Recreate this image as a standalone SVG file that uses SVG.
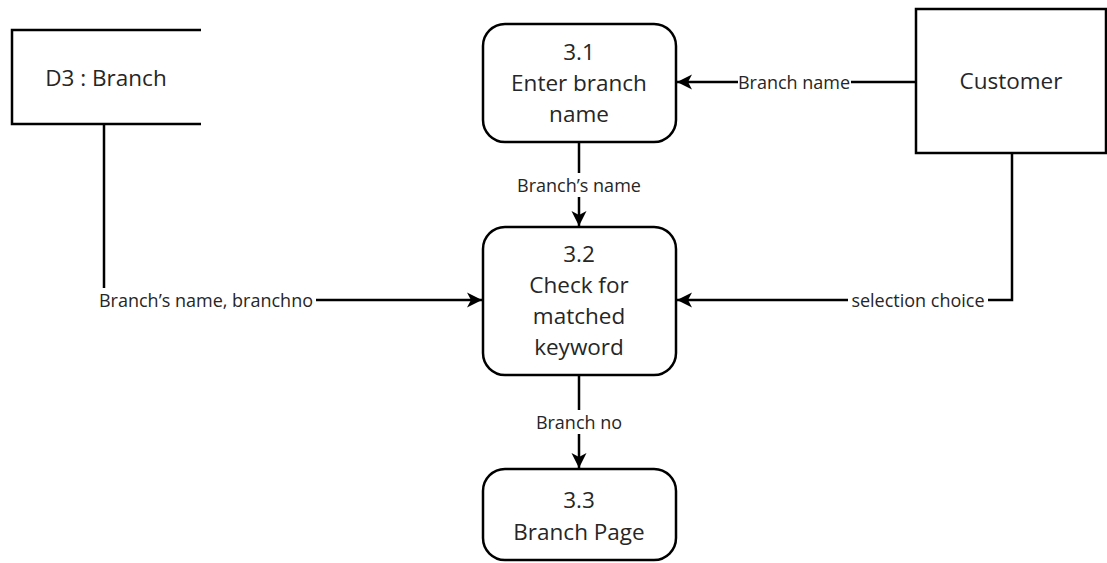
<svg xmlns="http://www.w3.org/2000/svg" width="1107" height="563" viewBox="0 0 1107 563">
<defs>
<marker id="arr" markerWidth="16" markerHeight="16" refX="15" refY="8" orient="auto" markerUnits="userSpaceOnUse">
<path d="M0,0.5 L15,8 L0,15.5 L4,8 Z" fill="#000"/>
</marker>
<style>
.box{fill:#fff;stroke:#000;stroke-width:2.5}
.ln{fill:none;stroke:#000;stroke-width:2.5}
.t{font-family:"Open Sans","Noto Sans",sans-serif;font-size:22.5px;fill:#262626;text-anchor:middle}
.lb{font-family:"Open Sans","Noto Sans",sans-serif;font-size:18px;fill:#262626;text-anchor:middle;dominant-baseline:central}
.bg{fill:#fff}
</style>
</defs>
<rect width="1107" height="563" fill="#fff"/>
<g id="connectors">
<path class="ln" d="M104,124 V300 H482" marker-end="url(#arr)"/>
<path class="ln" d="M916,82 H677" marker-end="url(#arr)"/>
<path class="ln" d="M579,142 V226" marker-end="url(#arr)"/>
<path class="ln" d="M1012,153 V300 H677" marker-end="url(#arr)"/>
<path class="ln" d="M579,375 V468" marker-end="url(#arr)"/>
<rect class="bg" x="96" y="288" width="220" height="24"/>
<text class="lb" x="206" y="300">Branch’s name, branchno</text>
<rect class="bg" x="738" y="70" width="113" height="24"/>
<text class="lb" x="794" y="82">Branch name</text>
<rect class="bg" x="513" y="173" width="132" height="24"/>
<text class="lb" x="579" y="185">Branch’s name</text>
<rect class="bg" x="848" y="288" width="140" height="24"/>
<text class="lb" x="918" y="300">selection choice</text>
<rect class="bg" x="534" y="410" width="90" height="24"/>
<text class="lb" x="579" y="422">Branch no</text>
</g>
<g id="d3">
<path class="ln" d="M201,30 H12 V124 H201"/>
<text class="t" x="106" y="86">D3 : Branch</text>
</g>
<g id="p31">
<rect class="box" x="483" y="24" width="193" height="118" rx="22"/>
<text class="t" x="579" y="60">3.1</text>
<text class="t" x="579" y="91">Enter branch</text>
<text class="t" x="579" y="122">name</text>
</g>
<g id="customer">
<rect class="box" x="916" y="9" width="190" height="144"/>
<text class="t" x="1011" y="89">Customer</text>
</g>
<g id="p32">
<rect class="box" x="483" y="227" width="193" height="148" rx="22"/>
<text class="t" x="579" y="262">3.2</text>
<text class="t" x="579" y="293">Check for</text>
<text class="t" x="579" y="324">matched</text>
<text class="t" x="579" y="355">keyword</text>
</g>
<g id="p33">
<rect class="box" x="483" y="469" width="193" height="91" rx="22"/>
<text class="t" x="579" y="508">3.3</text>
<text class="t" x="579" y="540">Branch Page</text>
</g>
</svg>
